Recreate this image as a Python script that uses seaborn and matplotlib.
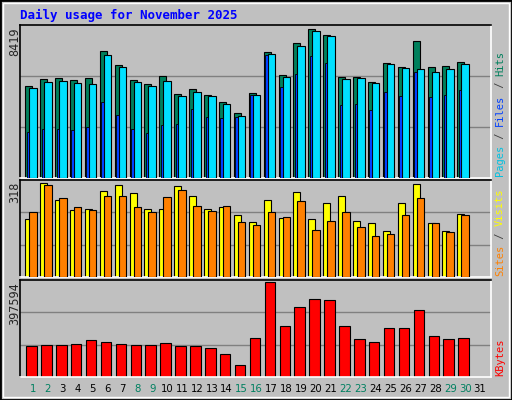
import matplotlib
matplotlib.use("Agg")
import matplotlib.pyplot as plt
import seaborn as sns
import numpy as np
import pandas as pd

days = list(range(1, 31))
day_labels = [str(d) for d in range(1, 32)]
weekend = [1, 2, 8, 9, 15, 16, 22, 23, 29, 30]
hits = [5081,5470,5526,5415,5526,6972,6193,5415,5192,5637,4636,4914,4580,4191,3579,4691,6917,5693,7417,8196,7862,5581,5581,5303,6305,6082,7529,6082,6138,6360]
files = [4970,5304,5359,5248,5192,6750,6082,5304,5081,5359,4525,4747,4525,4080,3412,4580,6806,5582,7251,8085,7807,5470,5526,5248,6249,6027,5971,5860,5971,6249]
pages = [2522,2689,2689,2633,2800,4191,3468,2689,2466,2911,2967,3802,3356,3301,3356,4580,6750,5025,5749,6694,6305,4024,4080,3746,4747,4525,5860,4469,4580,4859]
visits = [191,308,251,221,224,281,301,275,224,224,298,264,224,228,204,181,251,194,278,191,244,264,184,177,151,241,305,177,151,208]
sites = [214,301,258,228,221,264,264,228,214,261,285,234,218,234,181,171,214,198,248,154,184,214,164,134,141,204,258,177,147,204]
kbytes = [128000,133000,133000,137000,150000,145000,137000,133000,133000,141000,128000,128000,120000,94000,51000,158000,389000,209000,286000,321000,316000,209000,154000,145000,201000,201000,274000,167000,154000,158000]
max_hits, max_sites, max_kb = 8419, 318, 397594

sns.set_theme(style="white")
plt.rcParams['font.family'] = ['DejaVu Sans Mono', 'DejaVu Sans']
BG = "#C0C0C0"
W, H = 512, 400
fig = plt.figure(figsize=(W/100, H/100), dpi=100, facecolor=BG)

def rect(x0, y0, x1, y1):
    return [x0/W, 1 - y1/H, (x1-x0)/W, (y1-y0)/H]

x = np.array(days, dtype=float)
XL = (0.128, 31.74)

def style(ax, top):
    ax.set_facecolor(BG)
    ax.set_xlim(*XL)
    ax.set_ylim(0, top)
    ax.set_xticks([]); ax.set_yticks([])
    for g in (top/3, 2*top/3):
        ax.axhline(g, color="#808080", lw=1, zorder=0)
    for s in ("left", "top"):
        ax.spines[s].set_color("black")
    for s in ("right", "bottom"):
        ax.spines[s].set_color("white")
    for s in ax.spines.values():
        s.set_linewidth(1.2)

ax1 = fig.add_axes(rect(20, 25, 491, 178))
style(ax1, max_hits)
ax1.bar(x-0.285, hits, width=0.47, color="#00805C", edgecolor="black", lw=0.8, zorder=2)
ax1.bar(x, files, width=0.5, color="#00E0FF", edgecolor="black", lw=0.8, zorder=3)
ax1.bar(x-0.335, pages, width=0.17, color="#0040FF", edgecolor="black", lw=0.6, zorder=4)

ax2 = fig.add_axes(rect(20, 180, 491, 277))
style(ax2, max_sites)
ax2.bar(x-0.285, visits, width=0.47, color="#FFFF00", edgecolor="black", lw=0.8, zorder=2)
ax2.bar(x, sites, width=0.5, color="#FF8000", edgecolor="black", lw=0.8, zorder=3)

ax3 = fig.add_axes(rect(20, 280, 491, 377))
df = pd.DataFrame({"day": x - 0.1, "kb": kbytes})
sns.barplot(data=df, x="day", y="kb", native_scale=True, width=0.7, color="#FF0000",
            saturation=1, edgecolor="black", linewidth=0.8, ax=ax3, zorder=2)
style(ax3, max_kb)
ax3.set_xlabel(""); ax3.set_ylabel("")

fs = 8.5
fig.text(20/W, 1-15/H, "Daily usage for November 2025", color="#0000FF", fontsize=9,
         fontweight="bold", va="center", ha="left")
fig.text(15/W, 1-27/H, f"{max_hits}", rotation=90, fontsize=fs, va="top", ha="center")
fig.text(15/W, 1-182/H, f"{max_sites}", rotation=90, fontsize=fs, va="top", ha="center")
fig.text(15/W, 1-282/H, f"{max_kb}", rotation=90, fontsize=fs, va="top", ha="center")

SFS = 7.5
CH = SFS * 100/72 * 0.602
def side(y_bottom, parts):
    y = y_bottom
    for txt, col in parts:
        fig.text(500/W, 1-y/H, txt, rotation=90, fontsize=SFS, color=col, va="bottom", ha="center")
        y -= len(txt) * CH
side(176, [("Pages", "#00C0E0"), (" / ", "#404040"), ("Files", "#0040FF"), (" / ", "#404040"), ("Hits", "#00805C")])
side(276, [("Sites", "#FF8000"), (" / ", "#404040"), ("Visits", "#FFFF00")])
side(376, [("KBytes", "#FF0000")])

for i, lab in enumerate(day_labels):
    d = i + 1
    px = 33 + (d-1)*14.9
    col = "#008060" if d in weekend else "black"
    fig.text(px/W, 1-389/H, lab, color=col, fontsize=7.3, ha="center", va="center",
             family=["DejaVu Sans"])

fig.patches.append(plt.Rectangle((0, 0), 1, 1, transform=fig.transFigure, fill=False,
                                 edgecolor="black", lw=2))
fig.patches.append(plt.Rectangle((3/W, 3/H), 1-6/W, 1-6/H, transform=fig.transFigure, fill=False,
                                 edgecolor="white", lw=1))
fig.savefig("out.png", dpi=100, facecolor=BG)
